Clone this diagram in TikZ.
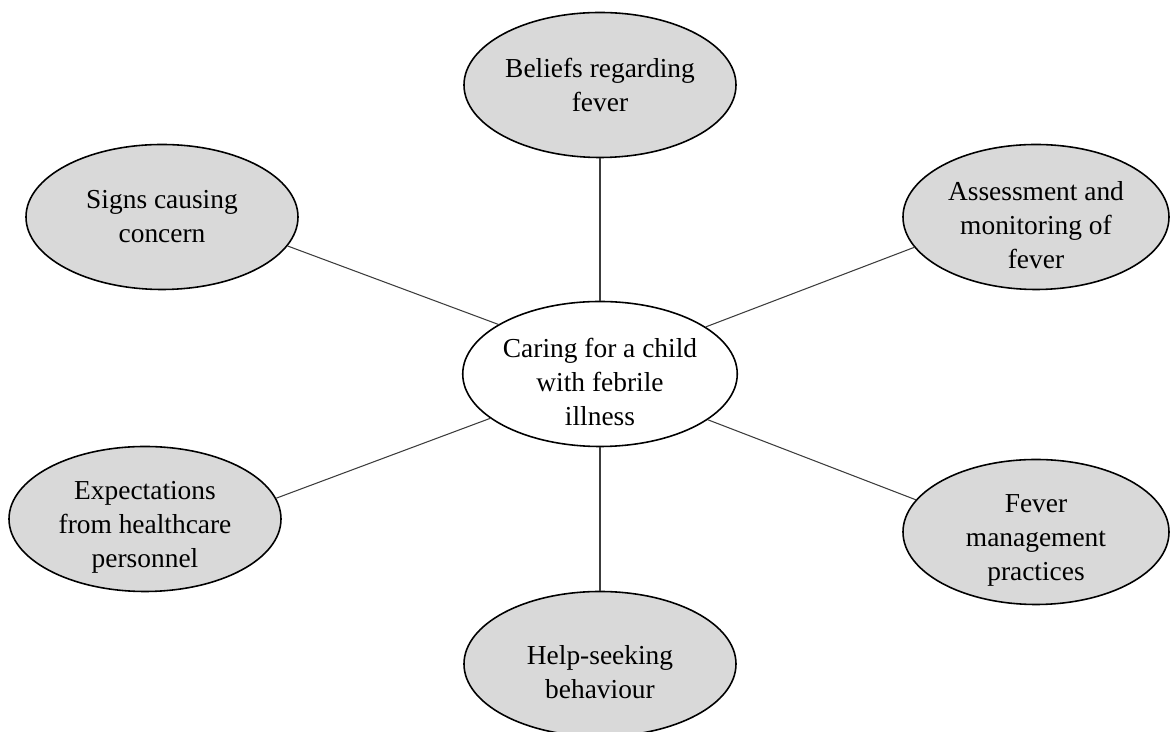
\documentclass[tikz,border=0pt]{standalone}
\usepackage{fontspec}
\setmainfont{Liberation Serif}
\usepackage{tikz}
\usetikzlibrary{shapes.geometric, positioning}
\definecolor{mygrey}{RGB}{217,217,217}
\definecolor{mydark}{RGB}{60,60,60}
\newcommand{\lift}{\rule{0pt}{20pt}}
\tikzset{
  theme/.style={ellipse, draw=black, fill=mygrey, line width=0.9pt,
    minimum width=5.44cm, minimum height=2.9cm, inner xsep=0pt, inner ysep=-4pt,
    align=center, font=\fontsize{15.6}{19.3}\selectfont},
  core/.style={theme, fill=white},
  link/.style={line width=0.6pt, color=mydark}
}
\begin{document}
\begin{tikzpicture}[scale=1.0]
  \useasboundingbox (0,0) rectangle (23.4,14.64);
  % central theme
  \node[core] (care) at (12.0,7.16) {\lift Caring for a child\\with febrile\\illness};
  % sub-themes
  \node[theme] (beliefs) at (12.0,12.94) {Beliefs regarding\\fever};
  \node[theme] (signs) at (3.24,10.3) {Signs causing\\concern};
  \node[theme, minimum width=5.32cm] (assess) at (20.72,10.3) {\lift Assessment and\\monitoring of\\fever};
  \node[theme] (expect) at (2.9,4.26) {\lift Expectations\\from healthcare\\personnel};
  \node[theme, minimum width=5.32cm] (fever) at (20.72,4.0) {\lift Fever\\management\\practices};
  \node[theme] (help) at (12.0,1.36) {\lift Help-seeking\\behaviour};
  % links
  \draw[link] (care.90) -- (beliefs.270);
  \draw[link] (care.154) -- (signs.347);
  \draw[link] (care.24) -- (assess.194);
  \draw[link] (care.202) -- (expect.9);
  \draw[link] (care.337) -- (fever.165);
  \draw[link] (care.270) -- (help.90);
\end{tikzpicture}
\end{document}
